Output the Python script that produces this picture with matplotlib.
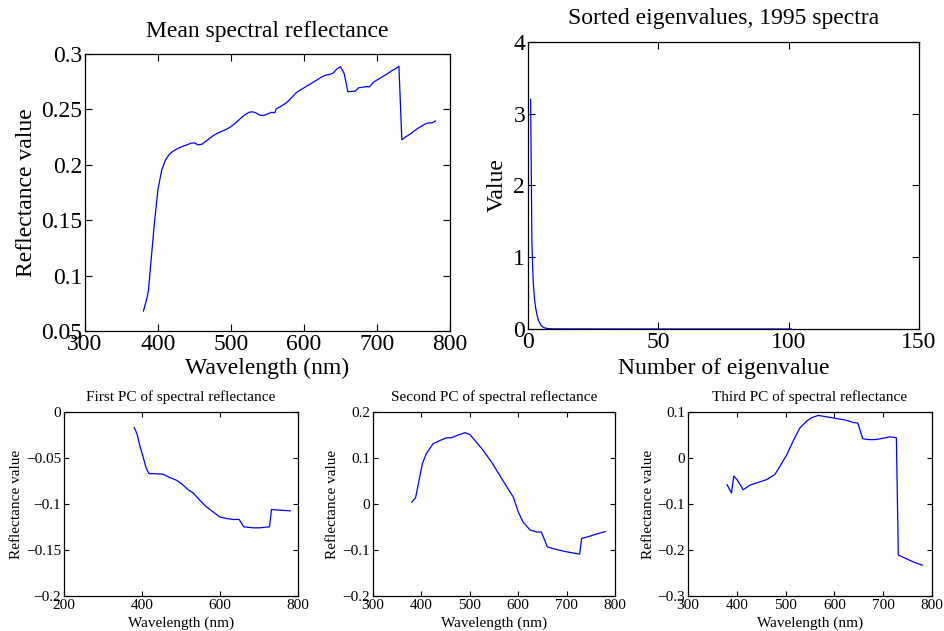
import matplotlib
matplotlib.use("Agg")
import matplotlib.pyplot as plt

plt.rcParams['font.family'] = ['Liberation Serif', 'DejaVu Serif']
plt.rcParams['axes.unicode_minus'] = True

# Mean spectral reflectance
mean_wl = [380, 385, 387, 390, 395, 400, 405, 410, 415, 420, 425, 430, 435, 440, 445,
           450, 455, 460, 465, 470, 475, 480, 485, 490, 495, 500, 505, 510, 515, 520,
           525, 530, 535, 540, 545, 550, 555, 560, 562, 565, 570, 575, 580, 585, 590,
           595, 600, 605, 610, 615, 620, 625, 630, 635, 640, 645, 650, 655, 660, 665,
           670, 675, 680, 685, 690, 695, 700, 705, 710, 715, 720, 725, 730, 734, 740,
           745, 750, 755, 760, 765, 770, 775, 780]
mean_refl = [0.068, 0.080, 0.087, 0.110, 0.147, 0.178, 0.195, 0.204, 0.209, 0.212, 0.214,
             0.2155, 0.217, 0.218, 0.2195, 0.2197, 0.218, 0.2185, 0.221, 0.2235, 0.226,
             0.228, 0.2295, 0.231, 0.2325, 0.2345, 0.237, 0.240, 0.243, 0.2455, 0.2475,
             0.2478, 0.2465, 0.2447, 0.2445, 0.2458, 0.2473, 0.247, 0.2505, 0.2515,
             0.2535, 0.2555, 0.2585, 0.262, 0.2655, 0.2675, 0.2695, 0.2715, 0.2735,
             0.2755, 0.2775, 0.2795, 0.281, 0.2815, 0.2828, 0.2865, 0.2885, 0.2825,
             0.266, 0.2662, 0.2665, 0.2695, 0.270, 0.2705, 0.2705, 0.2745, 0.2765,
             0.2785, 0.2805, 0.2825, 0.2848, 0.2865, 0.289, 0.2226, 0.2255, 0.2275,
             0.230, 0.2325, 0.2345, 0.2365, 0.2378, 0.2378, 0.2395]

# Sorted eigenvalues
eig_num = [1, 1.5, 2, 2.5, 3, 3.5, 4, 5, 6, 7, 8, 10, 20, 40, 60, 80, 101]
eig_val = [3.2, 1.2, 0.65, 0.42, 0.28, 0.19, 0.12, 0.05, 0.02, 0.01, 0.005, 0.002,
           0.001, 0.0005, 0.0003, 0.0002, 0.0001]

# First PC
pc1_wl = [380, 387, 394, 403, 411, 418, 428, 454, 471, 488, 501, 518, 531, 548, 565,
          582, 599, 616, 633, 649, 661, 685, 702, 727, 732, 753, 780]
pc1_val = [-0.017, -0.0235, -0.036, -0.049, -0.0615, -0.067, -0.067, -0.0676, -0.0712,
           -0.0741, -0.0778, -0.0843, -0.0879, -0.0958, -0.103, -0.1085, -0.114,
           -0.1157, -0.1168, -0.1168, -0.1248, -0.1259, -0.1259, -0.1248, -0.106,
           -0.1067, -0.1074]

# Second PC
pc2_wl = [380, 388, 395, 402, 410, 424, 438, 452, 462, 476, 490, 500, 514, 528, 545,
          562, 579, 590, 600, 610, 624, 638, 648, 660, 672, 700, 727, 731, 748, 766, 780]
pc2_val = [0.004, 0.0137, 0.051, 0.0875, 0.109, 0.131, 0.138, 0.144, 0.144, 0.150,
           0.155, 0.151, 0.134, 0.116, 0.091, 0.062, 0.033, 0.015, -0.017, -0.039,
           -0.056, -0.061, -0.061, -0.093, -0.097, -0.104, -0.109, -0.075, -0.070,
           -0.064, -0.060]

# Third PC
pc3_wl = [380, 389, 394, 401, 413, 427, 461, 478, 502, 516, 529, 543, 553, 567, 598,
          625, 639, 648, 658, 670, 684, 700, 714, 727, 731, 762, 780]
pc3_val = [-0.058, -0.076, -0.039, -0.048, -0.069, -0.059, -0.047, -0.036, 0.006, 0.038,
           0.065, 0.080, 0.0875, 0.0926, 0.087, 0.082, 0.077, 0.076, 0.042, 0.040,
           0.040, 0.043, 0.046, 0.044, -0.211, -0.226, -0.233]

W, H = 945, 631
fig = plt.figure(figsize=(W / 100, H / 100), dpi=100)


def axes_px(left, top, right, bottom):
    return fig.add_axes([left / W, 1 - bottom / H, (right - left) / W, (bottom - top) / H])


def style(ax, fs, ticklen):
    ax.tick_params(direction='in', top=True, right=True, length=ticklen,
                   width=0.8, labelsize=fs, pad=2)
    for s in ax.spines.values():
        s.set_linewidth(0.9)


line_kw = dict(color=(0, 0, 1), linewidth=0.9)

# top left
ax1 = axes_px(85, 54, 450, 331)
ax1.plot(mean_wl, mean_refl, **line_kw)
ax1.set_xlim(300, 800)
ax1.set_ylim(0.05, 0.3)
ax1.set_xticks([300, 400, 500, 600, 700, 800])
ax1.set_yticks([0.05, 0.1, 0.15, 0.2, 0.25, 0.3])
ax1.set_yticklabels(['0.05', '0.1', '0.15', '0.2', '0.25', '0.3'])
style(ax1, 17, 5)
ax1.set_title('Mean spectral reflectance', fontsize=17, pad=12)
ax1.set_xlabel('Wavelength (nm)', fontsize=17)
ax1.set_ylabel('Reflectance value', fontsize=17)
ax1.xaxis.set_label_coords(0.5, -0.098)
ax1.yaxis.set_label_coords(-0.131, 0.5)

# top right
ax2 = axes_px(528, 42, 919, 329)
ax2.plot(eig_num, eig_val, **line_kw)
ax2.set_xlim(0, 150)
ax2.set_ylim(0, 4)
ax2.set_xticks([0, 50, 100, 150])
ax2.set_yticks([0, 1, 2, 3, 4])
style(ax2, 17, 5)
ax2.set_title('Sorted eigenvalues, 1995 spectra', fontsize=17, pad=13)
ax2.set_xlabel('Number of eigenvalue', fontsize=17)
ax2.set_ylabel('Value', fontsize=17)
ax2.xaxis.set_label_coords(0.5, -0.1)
ax2.yaxis.set_label_coords(-0.052, 0.5)

# bottom row
bottom_specs = [
    ((64, 412, 298, 596), pc1_wl, pc1_val, 'First PC of spectral reflectance',
     (200, 800), [200, 400, 600, 800], (-0.2, 0), [-0.2, -0.15, -0.1, -0.05, 0],
     ['\u22120.2', '\u22120.15', '\u22120.1', '\u22120.05', '0'], -0.175),
    ((373, 412, 615, 596), pc2_wl, pc2_val, 'Second PC of spectral reflectance',
     (300, 800), [300, 400, 500, 600, 700, 800], (-0.2, 0.2), [-0.2, -0.1, 0, 0.1, 0.2],
     ['\u22120.2', '\u22120.1', '0', '0.1', '0.2'], -0.142),
    ((688, 412, 932, 596), pc3_wl, pc3_val, 'Third PC of spectral reflectance',
     (300, 800), [300, 400, 500, 600, 700, 800], (-0.3, 0.1), [-0.3, -0.2, -0.1, 0, 0.1],
     ['\u22120.3', '\u22120.2', '\u22120.1', '0', '0.1'], -0.135),
]

for rect, wl, val, title, xl, xt, yl, yt, ytl, ylab_x in bottom_specs:
    ax = axes_px(*rect)
    ax.plot(wl, val, **line_kw)
    ax.set_xlim(*xl)
    ax.set_ylim(*yl)
    ax.set_xticks(xt)
    ax.set_yticks(yt)
    ax.set_yticklabels(ytl)
    style(ax, 11, 3.5)
    ax.set_title(title, fontsize=11, pad=8)
    ax.set_xlabel('Wavelength (nm)', fontsize=11)
    ax.set_ylabel('Reflectance value', fontsize=11)
    ax.xaxis.set_label_coords(0.5, -0.11)
    ax.yaxis.set_label_coords(ylab_x, 0.5)

fig.savefig('out.png', dpi=100)
